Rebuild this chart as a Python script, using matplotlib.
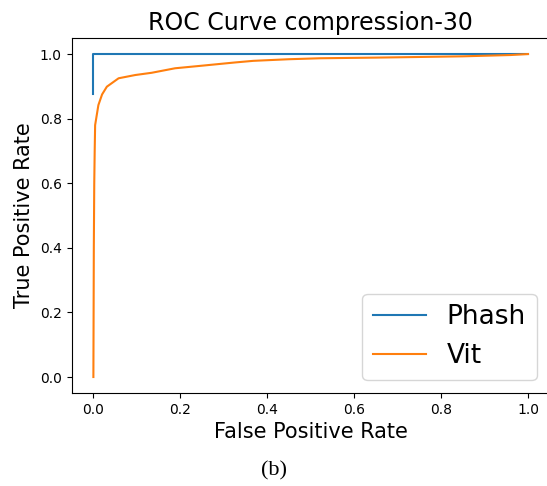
import matplotlib.pyplot as plt
import numpy as np

# ROC points
phash_fpr = [0.0, 0.0, 1.0]
phash_tpr = [0.875, 1.0, 1.0]

vit_fpr = [0.0, 0.0005, 0.001, 0.002, 0.003, 0.004, 0.0115, 0.02, 0.031, 0.058,
           0.096, 0.134, 0.188, 0.25, 0.326, 0.368, 0.45, 0.522, 0.65, 0.752,
           0.85, 0.906, 0.96, 1.0]
vit_tpr = [0.0, 0.2, 0.4, 0.6, 0.7, 0.78, 0.842, 0.875, 0.899, 0.925,
           0.935, 0.942, 0.956, 0.964, 0.974, 0.979, 0.984, 0.987, 0.989, 0.991,
           0.993, 0.995, 0.997, 1.0]

fig = plt.figure(figsize=(5.47, 4.86), dpi=100)
ax = fig.add_axes([0.131, 0.191, 0.874, 0.731])

ax.plot(phash_fpr, phash_tpr, color='tab:blue', label='Phash')
ax.plot(vit_fpr, vit_tpr, color='tab:orange', label='Vit')

ax.set_title('ROC Curve compression-30', fontsize=17)
ax.set_xlabel('False Positive Rate', fontsize=15)
ax.set_ylabel('True Positive Rate', fontsize=15)
ax.set_xticks(np.arange(0, 1.01, 0.2))
ax.set_yticks(np.arange(0, 1.01, 0.2))
ax.legend(loc='lower right', fontsize=19)
# the reference is cropped just before the right spine
ax.spines['right'].set_visible(False)

fig.text(0.5, 0.022, '(b)', ha='center', family='Liberation Serif', fontsize=16)

plt.savefig('out.png', dpi=100)
